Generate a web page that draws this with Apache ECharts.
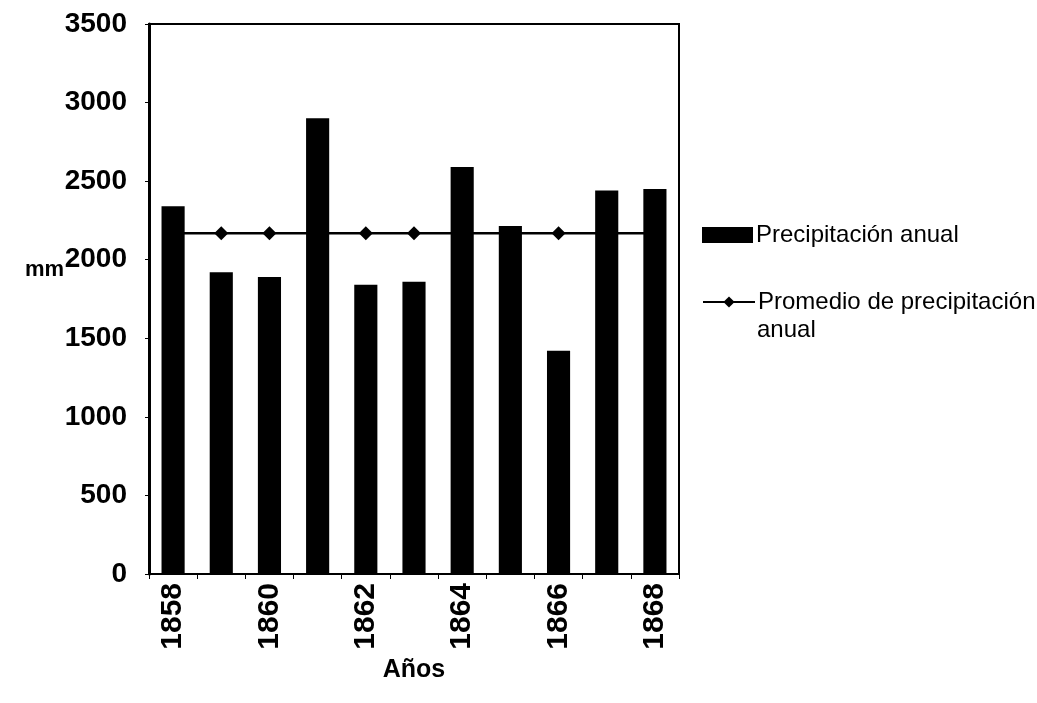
<!DOCTYPE html>
<html>
<head>
<meta charset="utf-8">
<script src="https://cdn.jsdelivr.net/npm/echarts@6/dist/echarts.min.js"></script>
<style>
  html, body { margin: 0; padding: 0; background: #fff; }
  #chart { width: 1037px; height: 703px; }
</style>
</head>
<body>
<div id="chart"></div>
<script>
// Años de registro
const years = ['1858', '1859', '1860', '1861', '1862', '1863', '1864', '1865', '1866', '1867', '1868'];
// Precipitación anual (mm)
const annualRain = [2340, 1920, 1890, 2900, 1840, 1860, 2590, 2215, 1420, 2440, 2450];
// Promedio de precipitación anual (mm)
const meanRain = [2169, 2169, 2169, 2169, 2169, 2169, 2169, 2169, 2169, 2169, 2169];
// Marcas del eje vertical
const yTicks = [0, 500, 1000, 1500, 2000, 2500, 3000, 3500];

const barName = 'Precipitación anual';
const lineName = 'Promedio de precipitación anual';

const chart = echarts.init(document.getElementById('chart'));
chart.setOption({
  backgroundColor: '#ffffff',
  animation: false,
  grid: {
    left: 149, right: 358, top: 24, bottom: 129,
    show: true, borderColor: '#000', borderWidth: 2, backgroundColor: 'transparent'
  },
  xAxis: {
    type: 'category',
    data: years,
    boundaryGap: true,
    name: 'Años',
    nameLocation: 'middle',
    nameGap: 78,
    nameTextStyle: { fontFamily: 'Liberation Sans', fontWeight: 'bold', fontSize: 25, color: '#000' },
    axisLine: { lineStyle: { color: '#000', width: 2 } },
    axisTick: { show: true, interval: 0, length: 5, lineStyle: { color: '#000', width: 1 } },
    axisLabel: {
      interval: 1, rotate: 90, margin: 9,
      fontFamily: 'Liberation Sans', fontWeight: 'bold', fontSize: 30, color: '#000'
    }
  },
  yAxis: {
    type: 'value',
    min: yTicks[0],
    max: yTicks[yTicks.length - 1],
    interval: 500,
    axisLine: { show: true, lineStyle: { color: '#000', width: 3 } },
    axisTick: { show: true, length: 4, lineStyle: { color: '#000', width: 1 } },
    splitLine: { show: false },
    axisLabel: {
      margin: 22,
      formatter: function (v) { return String(v); },
      fontFamily: 'Liberation Sans', fontWeight: 'bold', fontSize: 28, color: '#000'
    }
  },
  legend: [
    {
      data: [{ name: barName, icon: 'rect' }],
      left: 702, top: 223, padding: 0,
      itemWidth: 51, itemHeight: 16,
      textStyle: { fontFamily: 'Liberation Sans', fontSize: 24, color: '#000', padding: [0, 0, 0, -2] }
    },
    {
      data: [{ name: lineName }],
      left: 702, top: 290, padding: 0,
      itemWidth: 52, itemHeight: 14,
      formatter: function () { return 'Promedio de precipitación'; },
      textStyle: { fontFamily: 'Liberation Sans', fontSize: 24, color: '#000', padding: [0, 0, 0, -2] }
    }
  ],
  graphic: [
    {
      type: 'text', left: 25, top: 259,
      style: { text: 'mm', font: 'bold 22px "Liberation Sans"', fill: '#000' }
    },
    {
      type: 'text', left: 757, top: 318,
      style: { text: 'anual', font: '24px "Liberation Sans"', fill: '#000' }
    }
  ],
  series: [
    {
      name: lineName,
      type: 'line',
      data: meanRain,
      z: 1,
      symbol: 'diamond',
      symbolSize: 14,
      lineStyle: { color: '#000', width: 2.5 },
      itemStyle: { color: '#000' }
    },
    {
      name: barName,
      type: 'bar',
      data: annualRain,
      z: 2,
      barWidth: '48%',
      itemStyle: { color: '#000' }
    }
  ]
});
</script>
</body>
</html>
